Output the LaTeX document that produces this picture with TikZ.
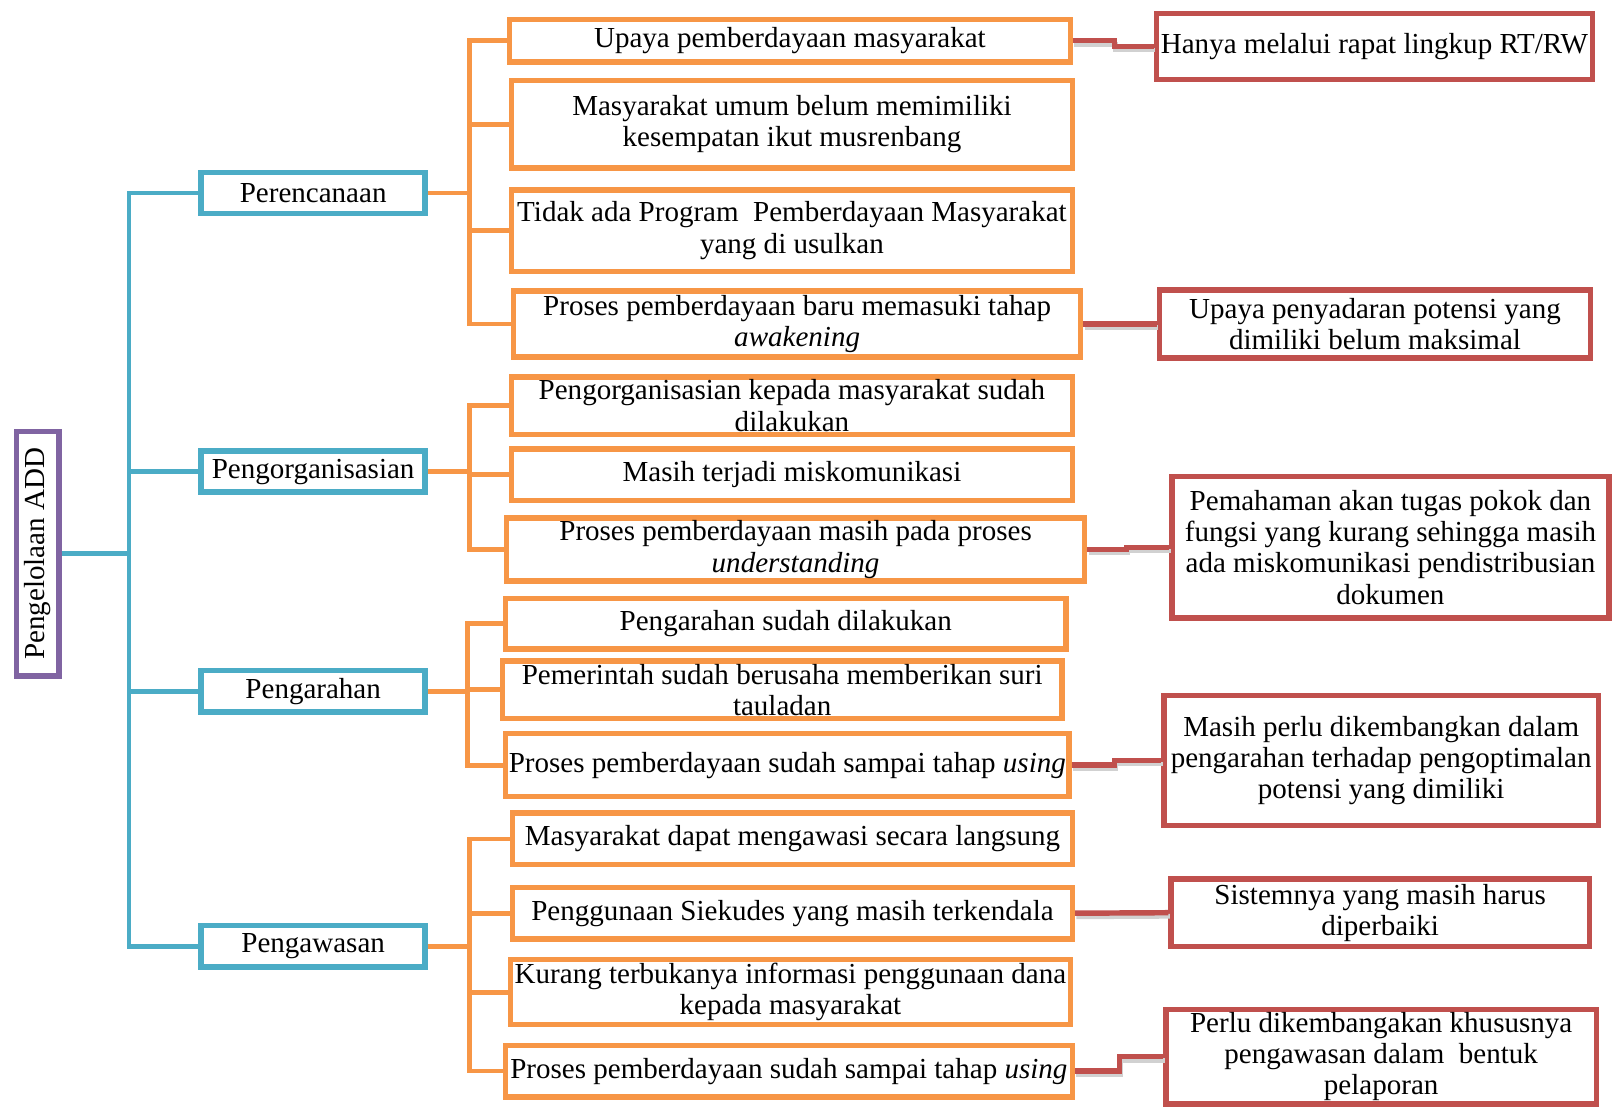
\documentclass[tikz,border=0pt]{standalone}
\usepackage{fontspec}
\setmainfont{Liberation Serif}
\usetikzlibrary{positioning,calc}
\definecolor{rootc}{RGB}{128,100,162}
\definecolor{bluec}{RGB}{75,172,198}
\definecolor{orangec}{RGB}{247,150,70}
\definecolor{redc}{RGB}{192,80,77}
\begin{document}
\begin{tikzpicture}[x=0.01cm,y=-0.01cm,
  every node/.style={font=\fontsize{8}{8.6}\selectfont,align=center,inner sep=0.8pt},
  rootbox/.style={draw=rootc,line width=1.5pt,rotate=90},
  lvone/.style={draw=bluec,line width=1.5pt,minimum width=2.17cm,minimum height=0.40cm},
  lvtwo/.style={draw=orangec,line width=1.5pt},
  lvthree/.style={draw=redc,line width=1.5pt},
  bline/.style={bluec,line width=1.3pt},
  oline/.style={orangec,line width=1.3pt},
  rline/.style={redc,line width=1.5pt,
    preaction={draw=black!18,line width=1.3pt,transform canvas={shift={(0.4pt,-1pt)}}}}]
\useasboundingbox (0,0) rectangle (1568,1073);
\node[rootbox,minimum width=2.37cm,minimum height=0.41cm] (root) at (36.5,536.5) {Pengelolaan ADD};
\node[lvone] (per) at (303.5,187) {Perencanaan};
\node[lvone] (org) at (303.5,457) {Pengorganisasian};
\node[lvone] (arh) at (303.5,670) {Pengarahan};
\node[lvone] (awas) at (303.5,917) {Pengawasan};
\node[lvtwo,minimum width=5.43cm,minimum height=0.41cm] (p1) at (765.5,39.5)
  {Upaya pemberdayaan masyarakat};
\node[lvtwo,minimum width=5.43cm,minimum height=0.85cm] (p2) at (767.5,120.5)
  {Masyarakat umum belum memimiliki\\kesempatan ikut musrenbang};
\node[lvtwo,minimum width=5.43cm,minimum height=0.79cm] (p3) at (767.5,223.5)
  {Tidak ada Program\ \ Pemberdayaan Masyarakat\\yang di usulkan};
\node[lvtwo,minimum width=5.49cm,minimum height=0.64cm] (p4) at (772.5,314)
  {Proses pemberdayaan baru memasuki tahap\\\textit{awakening}};
\node[lvtwo,minimum width=5.43cm,minimum height=0.50cm] (o1) at (767.5,393)
  {Pengorganisasian kepada masyarakat sudah\\dilakukan};
\node[lvtwo,minimum width=5.43cm,minimum height=0.50cm] (o2) at (767.5,460)
  {Masih terjadi miskomunikasi};
\node[lvtwo,minimum width=5.60cm,minimum height=0.57cm] (o3) at (771,532.5)
  {Proses pemberdayaan masih pada proses\\\textit{understanding}};
\node[lvtwo,minimum width=5.43cm,minimum height=0.49cm] (h1) at (761.5,604.5)
  {Pengarahan sudah dilakukan};
\node[lvtwo,minimum width=5.42cm,minimum height=0.51cm] (h2) at (758,668.5)
  {Pemerintah sudah berusaha memberikan suri\\tauladan};
\node[lvtwo,minimum width=5.46cm,minimum height=0.61cm] (h3) at (763,741.5)
  {Proses pemberdayaan sudah sampai tahap \textit{using}};
\node[lvtwo,minimum width=5.42cm,minimum height=0.50cm] (w1) at (768,813)
  {Masyarakat dapat mengawasi secara langsung};
\node[lvtwo,minimum width=5.42cm,minimum height=0.50cm] (w2) at (768,885)
  {Penggunaan Siekudes yang masih terkendala};
\node[lvtwo,minimum width=5.42cm,minimum height=0.63cm] (w3) at (766,961.5)
  {Kurang terbukanya informasi penggunaan dana\\kepada masyarakat};
\node[lvtwo,minimum width=5.49cm,minimum height=0.50cm] (w4) at (764.5,1038)
  {Proses pemberdayaan sudah sampai tahap \textit{using}};
\node[lvthree,minimum width=4.22cm,minimum height=0.64cm] (r1) at (1332,45)
  {Hanya melalui rapat lingkup RT/RW};
\node[lvthree,minimum width=4.17cm,minimum height=0.66cm] (r2) at (1332.5,314)
  {Upaya penyadaran potensi yang\\dimiliki belum maksimal};
\node[lvthree,minimum width=4.23cm,minimum height=1.37cm] (r3) at (1347.5,530.5)
  {Pemahaman akan tugas pokok dan\\fungsi yang kurang sehingga masih\\ada miskomunikasi pendistribusian\\dokumen};
\node[lvthree,minimum width=4.21cm,minimum height=1.26cm] (r4) at (1338.5,737)
  {Masih perlu dikembangkan dalam\\pengarahan terhadap pengoptimalan\\potensi yang dimiliki};
\node[lvthree,minimum width=4.05cm,minimum height=0.65cm] (r5) at (1337.5,884.5)
  {Sistemnya yang masih harus\\diperbaiki};
\node[lvthree,minimum width=4.17cm,minimum height=0.86cm] (r6) at (1338.5,1024)
  {Perlu dikembangakan khususnya\\pengawasan dalam\ \ bentuk\\pelaporan};
\coordinate (bt) at (125,536.5);
\coordinate (ot1) at (455,187);
\coordinate (ot2) at (455,457);
\coordinate (ot3) at (453,670);
\coordinate (ot4) at (455,917);
\draw[bline] (root.south) -- (bt);
\foreach \n in {per,org,arh,awas}
  \draw[bline] (bt) |- (\n.west);
\draw[oline] (per.east) -- (ot1);
\draw[oline] (org.east) -- (ot2);
\draw[oline] (arh.east) -- (ot3);
\draw[oline] (awas.east) -- (ot4);
\foreach \n in {p1,p2,p3,p4}
  \draw[oline] (ot1) |- (\n.west);
\foreach \n in {o1,o2,o3}
  \draw[oline] (ot2) |- (\n.west);
\foreach \n in {h1,h2,h3}
  \draw[oline] (ot3) |- (\n.west);
\foreach \n in {w1,w2,w3,w4}
  \draw[oline] (ot4) |- (\n.west);
\draw[rline] (p1.east) -- ++(40,0) |- (r1.west);
\draw[rline] (p4.east) -- (r2.west);
\draw[rline] (o3.east) -- ++(38,0) |- (r3.west);
\draw[rline] (h3.east) -- ++(41,0) |- (r4.west);
\draw[rline] (w2.east) -- (r5.west);
\draw[rline] (w4.east) -- ++(43,0) |- (r6.west);
\end{tikzpicture}
\end{document}
